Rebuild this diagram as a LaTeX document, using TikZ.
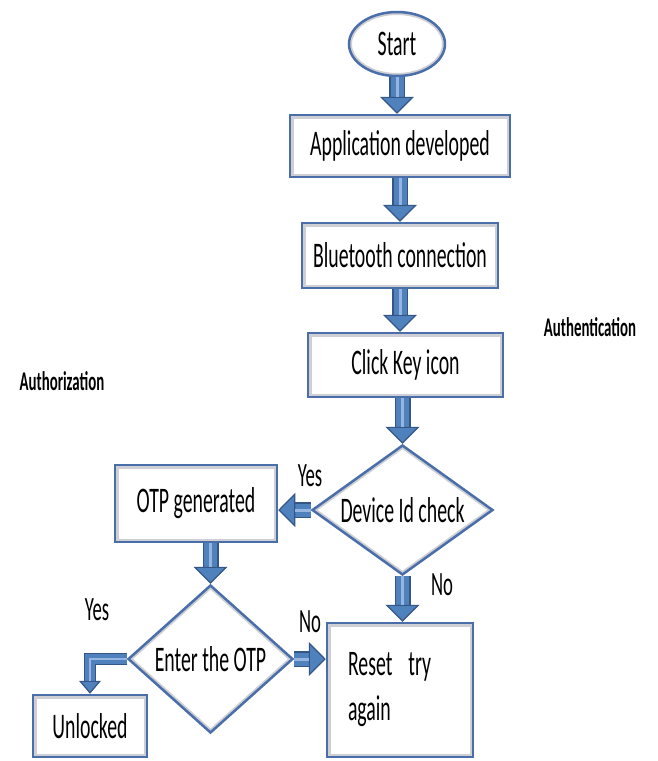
\documentclass[tikz,border=0pt]{standalone}
\usepackage{fontspec}
\setmainfont[FakeStretch=0.55]{Carlito}
\usetikzlibrary{shapes.geometric,arrows.meta}
\definecolor{frameblue}{RGB}{74,110,170}
\definecolor{shadegray}{RGB}{205,207,212}
\definecolor{arrowblue}{RGB}{79,129,189}
\definecolor{arrowdark}{RGB}{52,86,135}
\definecolor{arrowlight}{RGB}{150,182,225}
\tikzset{
  every node/.style={font=\fontsize{36}{45}\selectfont},
  box/.style={draw=frameblue, line width=2.5pt, fill=white, inner sep=0pt,
    path picture={\draw[shadegray, line width=7pt] (path picture bounding box.south west) rectangle (path picture bounding box.north east);}},
  decision/.style={diamond, draw=frameblue, line width=2.5pt, fill=white, inner sep=0pt,
    path picture={\draw[shadegray, line width=6pt] (path picture bounding box.north) -- (path picture bounding box.east) -- (path picture bounding box.south) -- (path picture bounding box.west) -- cycle;}},
  flow/.style={draw=arrowblue, line width=13pt,
    -{Triangle[length=17pt, width=34pt, line width=1.2pt, color=arrowdark, fill=arrowblue]},
    preaction={draw=arrowdark, -, line width=16pt, shorten >=10pt},
    postaction={draw=arrowlight, -, line width=3pt, shorten >=17pt}},
  thinflow/.style={draw=arrowblue, line width=10pt,
    -{Triangle[length=13pt, width=22pt, line width=1.2pt, color=arrowdark, fill=arrowblue]},
    preaction={draw=arrowdark, -, line width=12.5pt, shorten >=8pt},
    postaction={draw=arrowlight, -, line width=2.5pt, shorten >=13pt}},
  lbl/.style={font=\fontsize{34}{38}\selectfont},
  side/.style={font=\fontsize{27}{30}\selectfont\bfseries}
}
\begin{document}
\begin{tikzpicture}[x=1pt,y=-1pt]
\useasboundingbox (0,0) rectangle (657,761);

\node (start) at (397,44) [ellipse, draw=frameblue, line width=2.5pt, fill=white, inner sep=0pt,
  minimum width=96, minimum height=64,
  path picture={\draw[shadegray, line width=6pt] (path picture bounding box.center) ellipse [x radius=48pt, y radius=32pt];}] {Start};
\node (app) at (400,146) [box, minimum width=220, minimum height=62] {Application developed};
\node (bt) at (400,255.5) [box, minimum width=196, minimum height=65] {Bluetooth connection};
\node (key) at (405.5,365) [box, minimum width=195, minimum height=64] {Click Key icon};
\node (dev) at (402.5,510) [decision, aspect=1.39, minimum width=181, minimum height=130] {Device Id check};
\node (otp) at (196,503.5) [box, minimum width=162, minimum height=77] {OTP generated};
\node (enter) at (210.5,659) [decision, aspect=1.11, minimum width=165, minimum height=148] {Enter the OTP};
\node (reset) at (400,690) [box, minimum width=146, minimum height=134, text width=104, align=left] {\mbox{Reset\hspace{16pt}try}\\again};
\node (unlocked) at (90,726) [box, minimum width=114, minimum height=62] {Unlocked};

\node (authn) at (590,327) [side] {Authentication};
\node (authz) at (62,381) [side] {Authorization};
\node (yesdev) at (310,476) [lbl] {Yes};
\node (nodev) at (442,585) [lbl] {No};
\node (yesotp) at (97,610) [lbl] {Yes};
\node (nootp) at (310,622) [lbl] {No};

\foreach \a/\b in {start/app, app/bt, bt/key}
  \draw[flow] (\a.south) -- (\a.south |- \b.north);
\draw[flow] (key.south -| dev.north) -- (dev.north);
\draw[flow] (dev.west) -- (dev.west -| otp.east);
\draw[flow] (otp.south -| enter.north) -- (enter.north);
\draw[flow] (dev.south) -- (dev.south |- reset.north);
\draw[flow] (enter.east) -- (enter.east -| reset.west);
\draw[thinflow] (enter.west) -| (unlocked.north);
\end{tikzpicture}
\end{document}
